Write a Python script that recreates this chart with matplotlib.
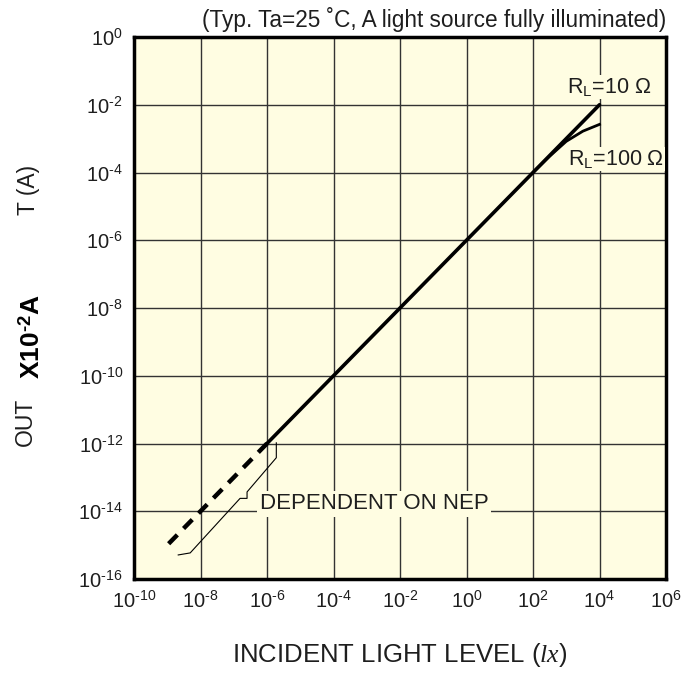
import numpy as np
import matplotlib
matplotlib.use("Agg")
import matplotlib.pyplot as plt
from matplotlib.ticker import FixedLocator, FuncFormatter

plt.rcParams["font.family"] = ["Liberation Sans", "DejaVu Sans"]
plt.rcParams["mathtext.fontset"] = "custom"
plt.rcParams["mathtext.rm"] = "Liberation Sans"
plt.rcParams["mathtext.it"] = "Liberation Serif:italic"
plt.rcParams["mathtext.bf"] = "Liberation Sans:bold"

HYPHEN = "\u2010"

# data (log10 values)
main_log_lux = [-6, 4]
main_log_amp = [-12, -2]
nep_log_lux = [-6, -9.1]
nep_log_amp = [-12, -15.1]
rl100_log_lux = [2.0, 2.5, 3.0, 3.5, 4.0]
rl100_log_amp = [-4.0, -3.52, -3.08, -2.78, -2.58]
brace_log_lux = [-5.72, -5.72, -6.60, -6.60, -6.81, -8.31, -8.67]
brace_log_amp = [-11.98, -12.42, -13.43, -13.62, -13.62, -15.23, -15.29]

x_ticks = [-10, -8, -6, -4, -2, 0, 2, 4, 6]
y_ticks = [0, -2, -4, -6, -8, -10, -12, -14, -16]

bg = "#fffde2"
ink = "#1e1e1e"

fig = plt.figure(figsize=(6.88, 6.77), dpi=100)
ax = fig.add_axes([134 / 688, 1 - 579 / 677, 532 / 688, 542 / 677])
ax.set_facecolor(bg)

ax.set_xscale("log")
ax.set_yscale("log")
ax.set_xlim(1e-10, 1e6)
ax.set_ylim(1e-16, 1e0)


def power_label(v, pos):
    e = int(round(np.log10(v)))
    s = str(e).replace("-", HYPHEN)
    return r"$\mathregular{10^{%s}}$" % s


ax.xaxis.set_major_locator(FixedLocator([10.0 ** t for t in x_ticks]))
ax.yaxis.set_major_locator(FixedLocator([10.0 ** t for t in y_ticks]))
ax.xaxis.set_minor_locator(FixedLocator([]))
ax.yaxis.set_minor_locator(FixedLocator([]))
ax.xaxis.set_major_formatter(FuncFormatter(power_label))
ax.yaxis.set_major_formatter(FuncFormatter(power_label))
ax.tick_params(length=0, labelsize=14.5, pad=8, colors=ink)

ax.grid(True, color="#333333", linewidth=1.0)
ax.set_axisbelow(True)
for s in ax.spines.values():
    s.set_linewidth(2.5)
    s.set_color("black")

# curves
ax.plot(10.0 ** np.array(main_log_lux), 10.0 ** np.array(main_log_amp),
        color="black", linewidth=2.6, solid_capstyle="round", zorder=3)
ax.plot(10.0 ** np.array(nep_log_lux), 10.0 ** np.array(nep_log_amp),
        color="black", linewidth=3.2, linestyle=(0, (2.8, 2.0)), zorder=3)
ax.plot(10.0 ** np.array(rl100_log_lux), 10.0 ** np.array(rl100_log_amp),
        color="black", linewidth=2.0, zorder=3)
ax.plot(10.0 ** np.array(brace_log_lux), 10.0 ** np.array(brace_log_amp),
        color="black", linewidth=0.8, zorder=3)

ax.text(10 ** -2.77, 10 ** -13.78, "DEPENDENT ON NEP", fontsize=16,
        ha="center", va="center", color=ink, zorder=4,
        bbox=dict(facecolor=bg, edgecolor="none", pad=2))
ax.text(10 ** 5.54, 10 ** -1.47, r"R$_\mathregular{L}$=10 Ω", fontsize=15.5,
        ha="right", va="center", color=ink, zorder=4,
        bbox=dict(facecolor=bg, edgecolor="none", pad=1))
ax.text(10 ** 5.93, 10 ** -3.6, r"R$_\mathregular{L}$=100 Ω", fontsize=15.5,
        ha="right", va="center", color=ink, zorder=4,
        bbox=dict(facecolor=bg, edgecolor="none", pad=1))

ax.text(1.0, 1.01, "(Typ. Ta=25 ˚C, A light source fully illuminated)",
        transform=ax.transAxes, ha="right", va="bottom", fontsize=16.3,
        color=ink)

fig.text(400 / 688, 1 - 655 / 677, r"INCIDENT LIGHT LEVEL ($\mathit{lx}$)",
         ha="center", va="center", fontsize=18.5, color=ink)

# y label pieces
fig.text(25 / 688, 1 - 422 / 677, "OUT", rotation=90, ha="center",
         va="center", fontsize=16.5, color=ink)
fig.text(32 / 688, 1 - 337 / 677, "X10$^{\\mathbf{" + HYPHEN + "2}}$A",
         rotation=90, ha="center", va="center", fontsize=19,
         fontweight="bold")
fig.text(28 / 688, 1 - 190 / 677, "T (A)", rotation=90, ha="center",
         va="center", fontsize=16.5, color=ink)

fig.savefig("out.png", dpi=100, facecolor="white")
